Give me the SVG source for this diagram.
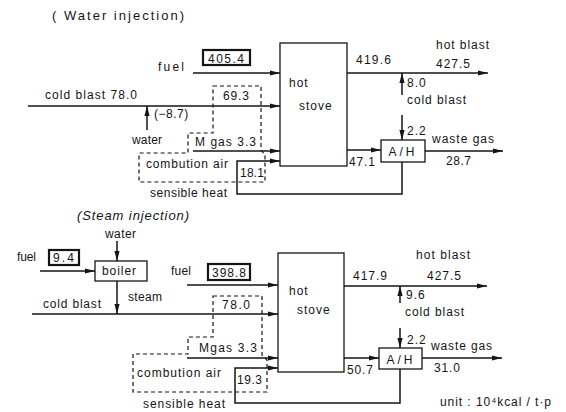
<svg xmlns="http://www.w3.org/2000/svg" width="566" height="412" viewBox="0 0 566 412">
<style>
text{font-family:"Liberation Sans",Arial,sans-serif;font-size:12px;fill:#151515;letter-spacing:1px}
.t{font-size:13px}
.ln{stroke:#151515;stroke-width:1.5;fill:none}
.ar{stroke:#151515;stroke-width:1.5;fill:none;marker-end:url(#ah)}
.bx{stroke:#151515;stroke-width:1.3;fill:#fff}
.vb{stroke:#151515;stroke-width:2.2;fill:#fff}
.ds{stroke:#151515;stroke-width:1.2;fill:none;stroke-dasharray:4 3}
</style>
<defs>
<marker id="ah" markerUnits="userSpaceOnUse" markerWidth="11" markerHeight="6" refX="10" refY="3" orient="auto">
<path d="M0,0.4 L10,3 L0,5.6 z" fill="#151515"/>
</marker>
</defs>
<rect width="566" height="412" fill="#fff"/>

<text class="t" x="52" y="20" textLength="133" lengthAdjust="spacing">( Water injection)</text>
<text class="t" x="77" y="220" textLength="113" lengthAdjust="spacing" font-style="italic">(Steam injection)</text>

<g id="connectors">
  <!-- water injection -->
  <line class="ar" x1="193" y1="73" x2="280" y2="73"/>
  <line class="ar" x1="28" y1="106" x2="280" y2="106"/>
  <line class="ar" x1="147" y1="130" x2="147" y2="106"/>
  <line class="ar" x1="193" y1="151" x2="280" y2="151"/>
  <path class="ar" d="M402,162 V194 H237 V161 H280"/>
  <line class="ar" x1="347" y1="73" x2="488" y2="73"/>
  <line class="ar" x1="402" y1="95" x2="402" y2="73"/>
  <line class="ar" x1="402" y1="115" x2="402" y2="140"/>
  <line class="ar" x1="347" y1="150" x2="381" y2="150"/>
  <line class="ar" x1="425" y1="151" x2="503" y2="151"/>
  <path class="ds" d="M213,86 H261 V150 L265,155 V182 H139 V153 H188 V133 H213 Z"/>
  <!-- steam injection -->
  <line class="ar" x1="117" y1="241" x2="117" y2="261"/>
  <line class="ar" x1="40" y1="271" x2="95" y2="271"/>
  <line class="ar" x1="117" y1="281" x2="117" y2="314"/>
  <line class="ar" x1="32" y1="314" x2="278" y2="314"/>
  <line class="ar" x1="187" y1="285" x2="278" y2="285"/>
  <line class="ar" x1="187" y1="358" x2="278" y2="358"/>
  <path class="ar" d="M400,369 V403 H235 V368 H278"/>
  <line class="ar" x1="344" y1="286" x2="487" y2="286"/>
  <line class="ar" x1="400" y1="303" x2="400" y2="286"/>
  <line class="ar" x1="400" y1="328" x2="400" y2="348"/>
  <line class="ar" x1="344" y1="358" x2="379" y2="358"/>
  <line class="ar" x1="422" y1="358" x2="502" y2="358"/>
  <path class="ds" d="M213,296 H262 V355 L267,360 V392 H133 V354 H188 V337 H213 Z"/>
</g>

<!-- Water injection nodes -->
<g id="w-fuel">
  <text x="158" y="71" textLength="27" lengthAdjust="spacing">fuel</text>
  <rect class="vb" x="203" y="50" width="47" height="15"/>
  <text x="208" y="63" textLength="37" lengthAdjust="spacing">405.4</text>
</g>
<g id="w-stove">
  <rect class="bx" x="280" y="43" width="67" height="123"/>
  <text x="289" y="87">hot</text>
  <text x="299" y="110">stove</text>
</g>
<g id="w-coldblast">
  <text x="45" y="99" textLength="93" lengthAdjust="spacing">cold blast 78.0</text>
  <text x="154" y="118" style="letter-spacing:0.5px">(−8.7)</text>
  <text x="132" y="144" textLength="31" lengthAdjust="spacing">water</text>
</g>
<g id="w-preheat">
  <text x="223" y="100" textLength="27" lengthAdjust="spacing">69.3</text>
  <text x="195" y="146" textLength="62" lengthAdjust="spacing">M  gas 3.3</text>
  <text x="146" y="168" textLength="83" lengthAdjust="spacing">combution air</text>
  <text x="240" y="177" textLength="25" lengthAdjust="spacing">18.1</text>
  <text x="150" y="197" textLength="78" lengthAdjust="spacing">sensible heat</text>
</g>
<g id="w-hotblast">
  <text x="356" y="64" textLength="36" lengthAdjust="spacing">419.6</text>
  <text x="436" y="49" textLength="54" lengthAdjust="spacing">hot blast</text>
  <text x="436" y="68" textLength="35" lengthAdjust="spacing">427.5</text>
  <text x="407" y="87">8.0</text>
  <text x="407" y="104" textLength="60" lengthAdjust="spacing">cold blast</text>
  <text x="407" y="135">2.2</text>
</g>
<g id="w-ah">
  <rect class="bx" x="381" y="140" width="44" height="22"/>
  <text x="403" y="156" text-anchor="middle" style="letter-spacing:3px">A/H</text>
  <text x="349" y="166" textLength="27" lengthAdjust="spacing">47.1</text>
  <text x="432" y="143" textLength="63" lengthAdjust="spacing">waste gas</text>
  <text x="446" y="165" textLength="26" lengthAdjust="spacing">28.7</text>
</g>

<!-- Steam injection nodes -->
<g id="s-boiler">
  <text x="105" y="238" textLength="32" lengthAdjust="spacing">water</text>
  <rect class="bx" x="95" y="261" width="52" height="20"/>
  <text x="102" y="275" textLength="35" lengthAdjust="spacing">boiler</text>
  <text x="17" y="261" textLength="20" lengthAdjust="spacing">fuel</text>
  <rect class="vb" x="49" y="250" width="30" height="15"/>
  <text x="53" y="262" textLength="22" lengthAdjust="spacing">9.4</text>
  <text x="128" y="301" textLength="35" lengthAdjust="spacing">steam</text>
  <text x="43" y="308" textLength="59" lengthAdjust="spacing">cold blast</text>
</g>
<g id="s-fuel">
  <text x="171" y="275" textLength="21" lengthAdjust="spacing">fuel</text>
  <rect class="vb" x="208" y="264" width="42" height="16"/>
  <text x="212" y="277" textLength="35" lengthAdjust="spacing">398.8</text>
</g>
<g id="s-stove">
  <rect class="bx" x="278" y="253" width="66" height="119"/>
  <text x="289" y="295">hot</text>
  <text x="297" y="314">stove</text>
</g>
<g id="s-preheat">
  <text x="222" y="309" textLength="29" lengthAdjust="spacing">78.0</text>
  <text x="199" y="352" textLength="59" lengthAdjust="spacing">Mgas 3.3</text>
  <text x="137" y="377" textLength="85" lengthAdjust="spacing">combution air</text>
  <text x="237" y="384" textLength="26" lengthAdjust="spacing">19.3</text>
  <text x="143" y="408" textLength="83" lengthAdjust="spacing">sensible heat</text>
</g>
<g id="s-hotblast">
  <text x="353" y="280" textLength="35" lengthAdjust="spacing">417.9</text>
  <text x="416" y="259" textLength="55" lengthAdjust="spacing">hot blast</text>
  <text x="427" y="280" textLength="35" lengthAdjust="spacing">427.5</text>
  <text x="406" y="299">9.6</text>
  <text x="405" y="316" textLength="60" lengthAdjust="spacing">cold blast</text>
  <text x="407" y="344">2.2</text>
</g>
<g id="s-ah">
  <rect class="bx" x="379" y="348" width="43" height="21"/>
  <text x="401" y="364" text-anchor="middle" style="letter-spacing:3px">A/H</text>
  <text x="347" y="374" textLength="27" lengthAdjust="spacing">50.7</text>
  <text x="431" y="350" textLength="62" lengthAdjust="spacing">waste gas</text>
  <text x="434" y="372" textLength="27" lengthAdjust="spacing">31.0</text>
</g>
<text x="440" y="406" textLength="112" lengthAdjust="spacing">unit : 10⁴kcal / t·p</text>
</svg>
